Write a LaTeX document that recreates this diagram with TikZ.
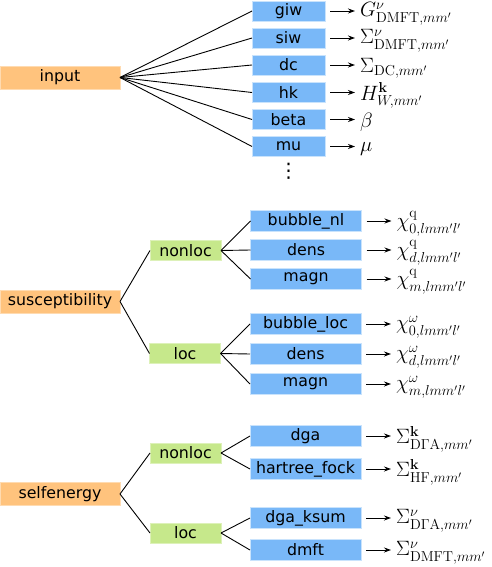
\documentclass[tikz,border=0pt]{standalone}
\usepackage{amsmath}
\usepackage[no-math]{fontspec}
\newfontfamily\boxfont{DejaVu Sans}
\usetikzlibrary{arrows.meta,positioning}
\DeclareMathSizes{20}{20}{14}{10}

\definecolor{rootorange}{RGB}{255,195,125}
\definecolor{midgreen}{RGB}{198,232,139}
\definecolor{leafblue}{RGB}{121,184,248}

\begin{document}
\begin{tikzpicture}[
                x=1pt, y=-1pt,
                font=\boxfont\fontsize{15.8}{18}\selectfont,
                root/.style={rectangle, fill=rootorange, draw=rootorange!60, line width=0.6pt, minimum width=120pt, minimum height=23pt, inner sep=0pt, outer sep=0pt},
                mid/.style={rectangle, fill=midgreen, draw=midgreen!60, line width=0.6pt, minimum width=71pt, minimum height=20pt, inner sep=0pt, outer sep=0pt},
                leaf/.style={rectangle, fill=leafblue, draw=leafblue!40, line width=0.8pt, minimum width=111pt, minimum height=21pt, inner sep=0pt, outer sep=0pt},
                sleaf/.style={leaf, minimum width=73pt, minimum height=20pt},
                res/.style={right=33pt of #1, yshift=-3pt, inner sep=2pt, font=\fontsize{20}{22}\selectfont},
                edge/.style={line width=0.9pt},
                arr/.style={-{Stealth[length=7pt, width=5pt]}, line width=0.9pt, shorten <=5pt, shorten >=3pt},
            ]
            \useasboundingbox (0,0) rectangle (491,567);

            % input
            \node[root] (inp) at (60,77.5) {input};
            \node[sleaf] (giw) at (288.5,11) {giw};
            \node[sleaf, below=7pt of giw] (siw) {siw};
            \node[sleaf, below=7pt of siw] (dc) {dc};
            \node[sleaf, below=7.5pt of dc] (hk) {hk};
            \node[sleaf, below=7pt of hk] (beta) {beta};
            \node[sleaf, below=7pt of beta] (mu) {mu};
            \node[below=7pt of mu, inner sep=0pt, font=\boxfont\fontsize{20}{20}\selectfont] (more) {⋮};

            \node[res=giw] (lgiw) {$G^{\nu}_{\mathrm{DMFT},mm'}$};
            \node[res=siw] (lsiw) {$\Sigma^{\nu}_{\mathrm{DMFT},mm'}$};
            \node[res=dc] (ldc) {$\Sigma_{\mathrm{DC},mm'}$};
            \node[res=hk] (lhk) {$H^{\mathbf{k}}_{W,mm'}$};
            \node[res=beta] (lbeta) {$\beta$};
            \node[res=mu] (lmu) {$\mu$};

            \foreach \n in {giw,siw,dc,hk,beta,mu} {
                \draw[edge] (inp.east) -- (\n.west);
                \draw[arr] (\n.east) -- (\n.east -| l\n.west);
            }

            % susceptibility
            \node[root] (sus) at (60,301.5) {susceptibility};
            \node[mid] (susnl) at (185.5,250.5) {nonloc};
            \node[mid] (susl) at (185,353.5) {loc};
            \node[leaf] (bnl) at (306,221) {bubble\_nl};
            \node[leaf, below=8pt of bnl] (dnl) {dens};
            \node[leaf, below=8pt of dnl] (mnl) {magn};
            \node[leaf] (bl) at (305.5,324) {bubble\_loc};
            \node[leaf, below=9pt of bl] (dl) {dens};
            \node[leaf, below=9pt of dl] (ml) {magn};

            \node[res=bnl] (lbnl) {$\chi^{\mathrm{q}}_{0,lmm'l'}$};
            \node[res=dnl] (ldnl) {$\chi^{\mathrm{q}}_{d,lmm'l'}$};
            \node[res=mnl] (lmnl) {$\chi^{\mathrm{q}}_{m,lmm'l'}$};
            \node[res=bl] (lbl) {$\chi^{\omega}_{0,lmm'l'}$};
            \node[res=dl] (ldl) {$\chi^{\omega}_{d,lmm'l'}$};
            \node[res=ml] (lml) {$\chi^{\omega}_{m,lmm'l'}$};

            \draw[edge] (sus.east) -- (susnl.west);
            \draw[edge] (sus.east) -- (susl.west);
            \foreach \n in {bnl,dnl,mnl} {
                \draw[edge] (susnl.east) -- (\n.west);
                \draw[arr] (\n.east) -- (\n.east -| l\n.west);
            }
            \foreach \n in {bl,dl,ml} {
                \draw[edge] (susl.east) -- (\n.west);
                \draw[arr] (\n.east) -- (\n.east -| l\n.west);
            }

            % selfenergy
            \node[root] (se) at (60,494) {selfenergy};
            \node[mid] (senl) at (185.5,453) {nonloc};
            \node[mid] (sel) at (185.5,533) {loc};
            \node[leaf] (dga) at (305.5,436) {dga};
            \node[leaf, below=12pt of dga] (hf) {hartree\_fock};
            \node[leaf] (dgak) at (305.5,518) {dga\_ksum};
            \node[leaf, below=11pt of dgak] (dmft) {dmft};

            \node[res=dga] (ldga) {$\Sigma^{\mathbf{k}}_{\mathrm{D\Gamma A},mm'}$};
            \node[res=hf] (lhf) {$\Sigma^{\mathbf{k}}_{\mathrm{HF},mm'}$};
            \node[res=dgak] (ldgak) {$\Sigma^{\nu}_{\mathrm{D\Gamma A},mm'}$};
            \node[res=dmft] (ldmft) {$\Sigma^{\nu}_{\mathrm{DMFT},mm'}$};

            \draw[edge] (se.east) -- (senl.west);
            \draw[edge] (se.east) -- (sel.west);
            \foreach \n in {dga,hf} {
                \draw[edge] (senl.east) -- (\n.west);
                \draw[arr] (\n.east) -- (\n.east -| l\n.west);
            }
            \foreach \n in {dgak,dmft} {
                \draw[edge] (sel.east) -- (\n.west);
                \draw[arr] (\n.east) -- (\n.east -| l\n.west);
            }
        \end{tikzpicture}
\end{document}
